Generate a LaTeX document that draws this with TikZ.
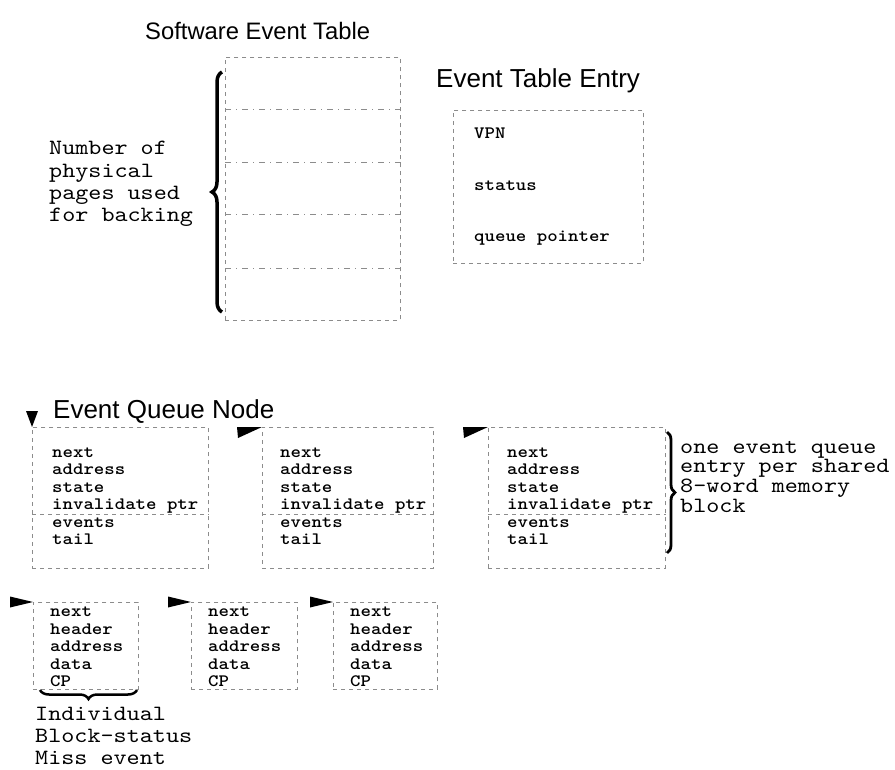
\documentclass[tikz,border=0pt]{standalone}
\usepackage{fontspec}
\newfontfamily\sansf{Liberation Sans}
\newfontfamily\courf{lmmono10-regular.otf}[FakeStretch=1.143]
\newfontfamily\courbf{lmmonolt10-bold.otf}[FakeStretch=1.143]
\usetikzlibrary{decorations.pathreplacing}
\begin{document}
\begin{tikzpicture}[x=1pt,y=-1pt,
  boxline/.style={draw=black!45, line width=0.55pt, dash pattern=on 4pt off 4pt},
  boxnode/.style={boxline, anchor=north west, inner sep=0pt},
  boxtxt/.style={anchor=base west, inner sep=0pt, font=\courbf\fontsize{17.4}{17.4}\selectfont},
  labtxt/.style={anchor=base west, inner sep=0pt, font=\courf\fontsize{21.8}{21.8}\selectfont},
  titletxt/.style={anchor=base west, inner sep=0pt, font=\sansf\fontsize{26}{30}\selectfont},
  head/.style={fill=black, draw=none},
  bracest/.style={decorate, decoration={brace, amplitude=#1}, draw=black},
  bracest/.default=9
]
\useasboundingbox (0,0) rectangle (895,770);

% titles
\node[titletxt, font=\sansf\fontsize{23.8}{28}\selectfont] (t1) at (145,40) {Software Event Table};
\node[titletxt] (t2) at (436,88) {Event Table Entry};
\node[titletxt] (t3) at (53,418) {Event Queue Node};

% software event table
\node[boxnode, minimum width=175, minimum height=263] (set) at (225,57) {};
\foreach \y in {109,162,214,268} {
  \coordinate (h\y) at (0,\y);
  \draw[boxline, dash pattern=on 6pt off 5pt on 1pt off 5pt] (set.west |- h\y) -- (set.east |- h\y);
}
\coordinate (lb1) at (222,312);
\coordinate (lb2) at (222,72);
\draw[bracest=10, line width=3.5pt] (lb1) -- (lb2);
\foreach \t [count=\i] in {Number of, physical, pages used, for backing}
  \node[labtxt] (nl\i) at (49,{155+(\i-1)*22.3}) {\t};

% event table entry
\node[boxnode, minimum width=190, minimum height=153] (ete) at (453,110) {};
\node[boxtxt] (e1) at (474,139) {VPN};
\node[boxtxt] (e2) at (474,191) {status};
\node[boxtxt] (e3) at (474,242) {queue pointer};

% event queue nodes
\node[boxnode, minimum width=176, minimum height=141] (q1) at (32,427) {};
\node[boxnode, minimum width=171, minimum height=141] (q2) at (262,427) {};
\node[boxnode, minimum width=177, minimum height=141] (q3) at (488,427) {};
\coordinate (qdiv) at (0,514);
\foreach \q/\x in {q1/52, q2/280, q3/507} {
  \draw[boxline] (\q.west |- qdiv) -- (\q.east |- qdiv);
  \foreach \t [count=\i] in {next, address, state, invalidate ptr, events, tail}
    \node[boxtxt] (\q-\i) at (\x,{457+(\i-1)*17.5}) {\t};
}
\fill[head] (q1.north west) -- ++(-6,-16) -- ++(12,0) -- cycle;
\fill[head] (q2.north west) -- ++(-25,0) -- ++(1,11) -- cycle;
\fill[head] (q3.north west) -- ++(-25,0) -- ++(1,11) -- cycle;

\coordinate (rb1) at (667,432);
\coordinate (rb2) at (667,553);
\draw[bracest=8, line width=2.8pt] (rb1) -- (rb2);
\foreach \t [count=\i] in {one event queue, entry per shared, 8-word memory, block}
  \node[labtxt] (rl\i) at (680,{453+(\i-1)*19.7}) {\t};

% miss event nodes
\node[boxnode, minimum width=105, minimum height=87] (s1) at (33,602) {};
\node[boxnode, minimum width=106, minimum height=87] (s2) at (191,602) {};
\node[boxnode, minimum width=104, minimum height=87] (s3) at (333,602) {};
\foreach \s/\x in {s1/50, s2/208, s3/350} {
  \foreach \t [count=\i] in {next, header, address, data, CP}
    \node[boxtxt] (\s-\i) at (\x,{616.5+(\i-1)*17.5}) {\t};
  \fill[head] (\s.north west) -- ++(-23,-5.5) -- ++(0,11) -- cycle;
}
\coordinate (bb1) at (137,690);
\coordinate (bb2) at (40,690);
\draw[bracest=9, line width=2.5pt] (bb1) -- (bb2);
\foreach \t [count=\i] in {Individual, Block-status, Miss event}
  \node[labtxt] (bl\i) at (35,{720+(\i-1)*22}) {\t};
\end{tikzpicture}
\end{document}
